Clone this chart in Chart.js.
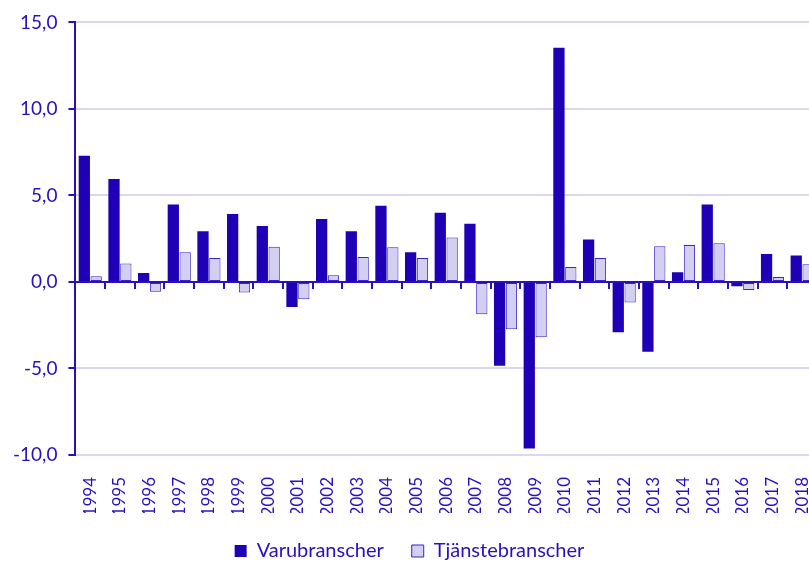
<!DOCTYPE html>
<html>
<head>
<meta charset="utf-8">
<script src="https://cdn.jsdelivr.net/npm/chart.js@4/dist/chart.umd.min.js"></script>
<style>
  html, body { margin: 0; padding: 0; background: #fff; overflow: hidden; }
  #wrap { width: 850px; height: 563px; }
</style>
</head>
<body>
<div id="wrap"><canvas id="growthChart" width="850" height="563"></canvas></div>
<script>
// Tillväxt per år, procent
const years = ['1994', '1995', '1996', '1997', '1998', '1999', '2000', '2001', '2002', '2003',
    '2004', '2005', '2006', '2007', '2008', '2009', '2010', '2011', '2012', '2013',
    '2014', '2015', '2016', '2017', '2018'];
const varubranscher = [7.3, 5.95, 0.52, 4.48, 2.93, 3.93, 3.24, -1.45, 3.64, 2.93,
    4.41, 1.72, 4.0, 3.36, -4.84, -9.63, 13.53, 2.45, -2.91, -4.04,
    0.56, 4.48, -0.25, 1.61, 1.53];
const tjanstebranscher = [0.33, 1.06, -0.57, 1.72, 1.38, -0.61, 2.03, -1.0, 0.39, 1.44,
    2.0, 1.38, 2.57, -1.86, -2.74, -3.2, 0.86, 1.38, -1.18, 2.07,
    2.13, 2.24, -0.46, 0.29, 1.03];
const yTicks = [-10, -5, 0, 5, 10, 15];

const ink = '#2a0fbd';
const darkBar = '#1f00b6';
const lightBar = '#d3cff1';
const gridColor = '#d9d7f2';

const fontFamily = 'Lato, "Open Sans", sans-serif';

const ctx = document.getElementById('growthChart');
new Chart(ctx.getContext('2d'), {
    type: 'bar',
    data: {
        labels: years,
        datasets: [{
            label: 'Varubranscher',
            data: varubranscher,
            backgroundColor: darkBar,
            borderColor: darkBar,
            borderWidth: 0,
            categoryPercentage: 0.8,
            barPercentage: 0.95
        }, {
            label: 'Tjänstebranscher',
            data: tjanstebranscher,
            backgroundColor: lightBar,
            borderColor: '#3b22c9',
            borderWidth: 1,
            borderSkipped: false,
            categoryPercentage: 0.8,
            barPercentage: 0.95
        }]
    },
    options: {
        responsive: false,
        animation: false,
        layout: { padding: { left: 2, right: 33, top: 20, bottom: 0 } },
        plugins: {
            tooltip: { enabled: false },
            legend: {
                position: 'bottom',
                maxHeight: 50,
                labels: {
                    color: ink,
                    font: { family: fontFamily, size: 20, lineHeight: 1 },
                    boxWidth: 12,
                    boxHeight: 12,
                    padding: 28
                }
            }
        },
        scales: {
            x: {
                grid: { display: false, drawTicks: false },
                border: { display: false },
                ticks: {
                    color: ink,
                    font: { family: fontFamily, size: 17 },
                    minRotation: 90,
                    maxRotation: 90,
                    padding: 22
                },
                afterFit: axis => { axis.height = 58; }
            },
            x2: {
                type: 'category',
                position: { y: 0 },
                grid: {
                    offset: true,
                    drawOnChartArea: false,
                    drawTicks: true,
                    tickLength: 6,
                    color: ink,
                    lineWidth: 2
                },
                border: { display: true, color: ink, width: 2 },
                ticks: { display: false },
                afterFit: axis => { axis.height = 0; }
            },
            y: {
                min: -10,
                max: 15,
                afterBuildTicks: axis => { axis.ticks = yTicks.map(v => ({ value: v })); },
                grid: {
                    color: gridColor,
                    lineWidth: 2,
                    drawTicks: true,
                    tickLength: 7,
                    tickColor: ink
                },
                border: { display: true, color: ink, width: 2 },
                ticks: {
                    color: ink,
                    font: { family: fontFamily, size: 19 },
                    padding: 11,
                    callback: v => v.toFixed(1).replace('.', ',')
                }
            }
        }
    }
});
</script>
</body>
</html>
